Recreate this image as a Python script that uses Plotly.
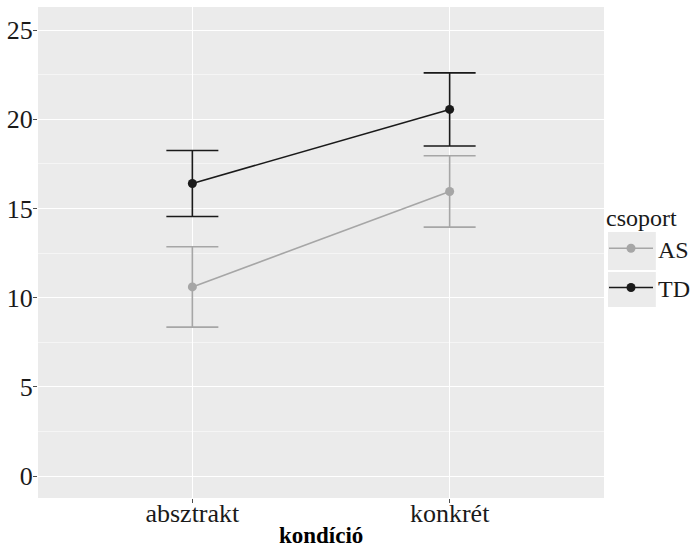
import plotly.graph_objects as go

# condition levels on the x axis
conditions = ["absztrakt", "konkrét"]

# group means and error half-widths
as_mean = [10.6, 15.95]
as_err = [2.25, 2.0]
td_mean = [16.4, 20.55]
td_err = [1.85, 2.05]

colors = {"AS": "#a6a6a6", "TD": "#1a1a1a"}

y_ticks = [0, 5, 10, 15, 20, 25]

serif = "Liberation Serif"

fig = go.Figure()
for name, mean, err in [("AS", as_mean, as_err), ("TD", td_mean, td_err)]:
    fig.add_trace(go.Scatter(
        x=[1, 2], y=mean, name=name, legendgroup=name, mode="lines+markers",
        line=dict(color=colors[name], width=1.6),
        marker=dict(color=colors[name], size=9),
        error_y=dict(type="data", array=err, visible=True,
                     color=colors[name], thickness=1.6, width=26),
    ))

# grey key boxes behind the legend entries
for y0, y1 in [(232, 270), (272, 307)]:
    fig.add_shape(type="rect", xref="paper", yref="paper",
                  x0=(610 - 38) / 568, x1=(658 - 38) / 568,
                  y0=(498 - y1) / 491, y1=(498 - y0) / 491,
                  fillcolor="#ebebeb", line_width=0, layer="below")

# x axis title, bold, below the category labels
fig.add_annotation(text="<b>kondíció</b>", xref="paper", yref="paper",
                   x=0.5, y=-(535 - 498) / 491, xanchor="center",
                   yanchor="middle", showarrow=False,
                   font=dict(family=serif, size=23, color="#000000"))

fig.update_layout(
    width=700, height=548,
    margin=dict(l=38, r=94, t=7, b=50),
    paper_bgcolor="white", plot_bgcolor="#ebebeb",
    font=dict(family=serif, size=26, color="#1a1a1a"),
    showlegend=True,
    legend=dict(
        title=dict(text="csoport", font=dict(size=24)),
        xref="container", yref="container",
        x=604 / 700, xanchor="left", y=1 - 195 / 548, yanchor="top",
        bgcolor="rgba(0,0,0,0)", font=dict(size=24),
        traceorder="grouped", tracegroupgap=5, itemwidth=44,
    ),
    xaxis=dict(
        range=[0.4, 2.6], tickvals=[1, 2], ticktext=conditions,
        showgrid=True, gridcolor="white", gridwidth=1.2, zeroline=False,
        ticks="outside", ticklen=4, tickcolor="#4d4d4d",
        tickfont=dict(size=26), automargin=False, ticklabelstandoff=-12,
    ),
    yaxis=dict(
        range=[-1.23, 26.29], tickvals=y_ticks,
        showgrid=True, gridcolor="white", gridwidth=1.2, zeroline=False,
        ticks="outside", ticklen=4, tickcolor="#4d4d4d",
        tickfont=dict(size=26), automargin=False, ticklabelstandoff=-5,
        minor=dict(dtick=2.5, tick0=0, showgrid=True, gridcolor="#f5f5f5",
                   gridwidth=0.6),
    ),
)

fig.write_html("out.html")
